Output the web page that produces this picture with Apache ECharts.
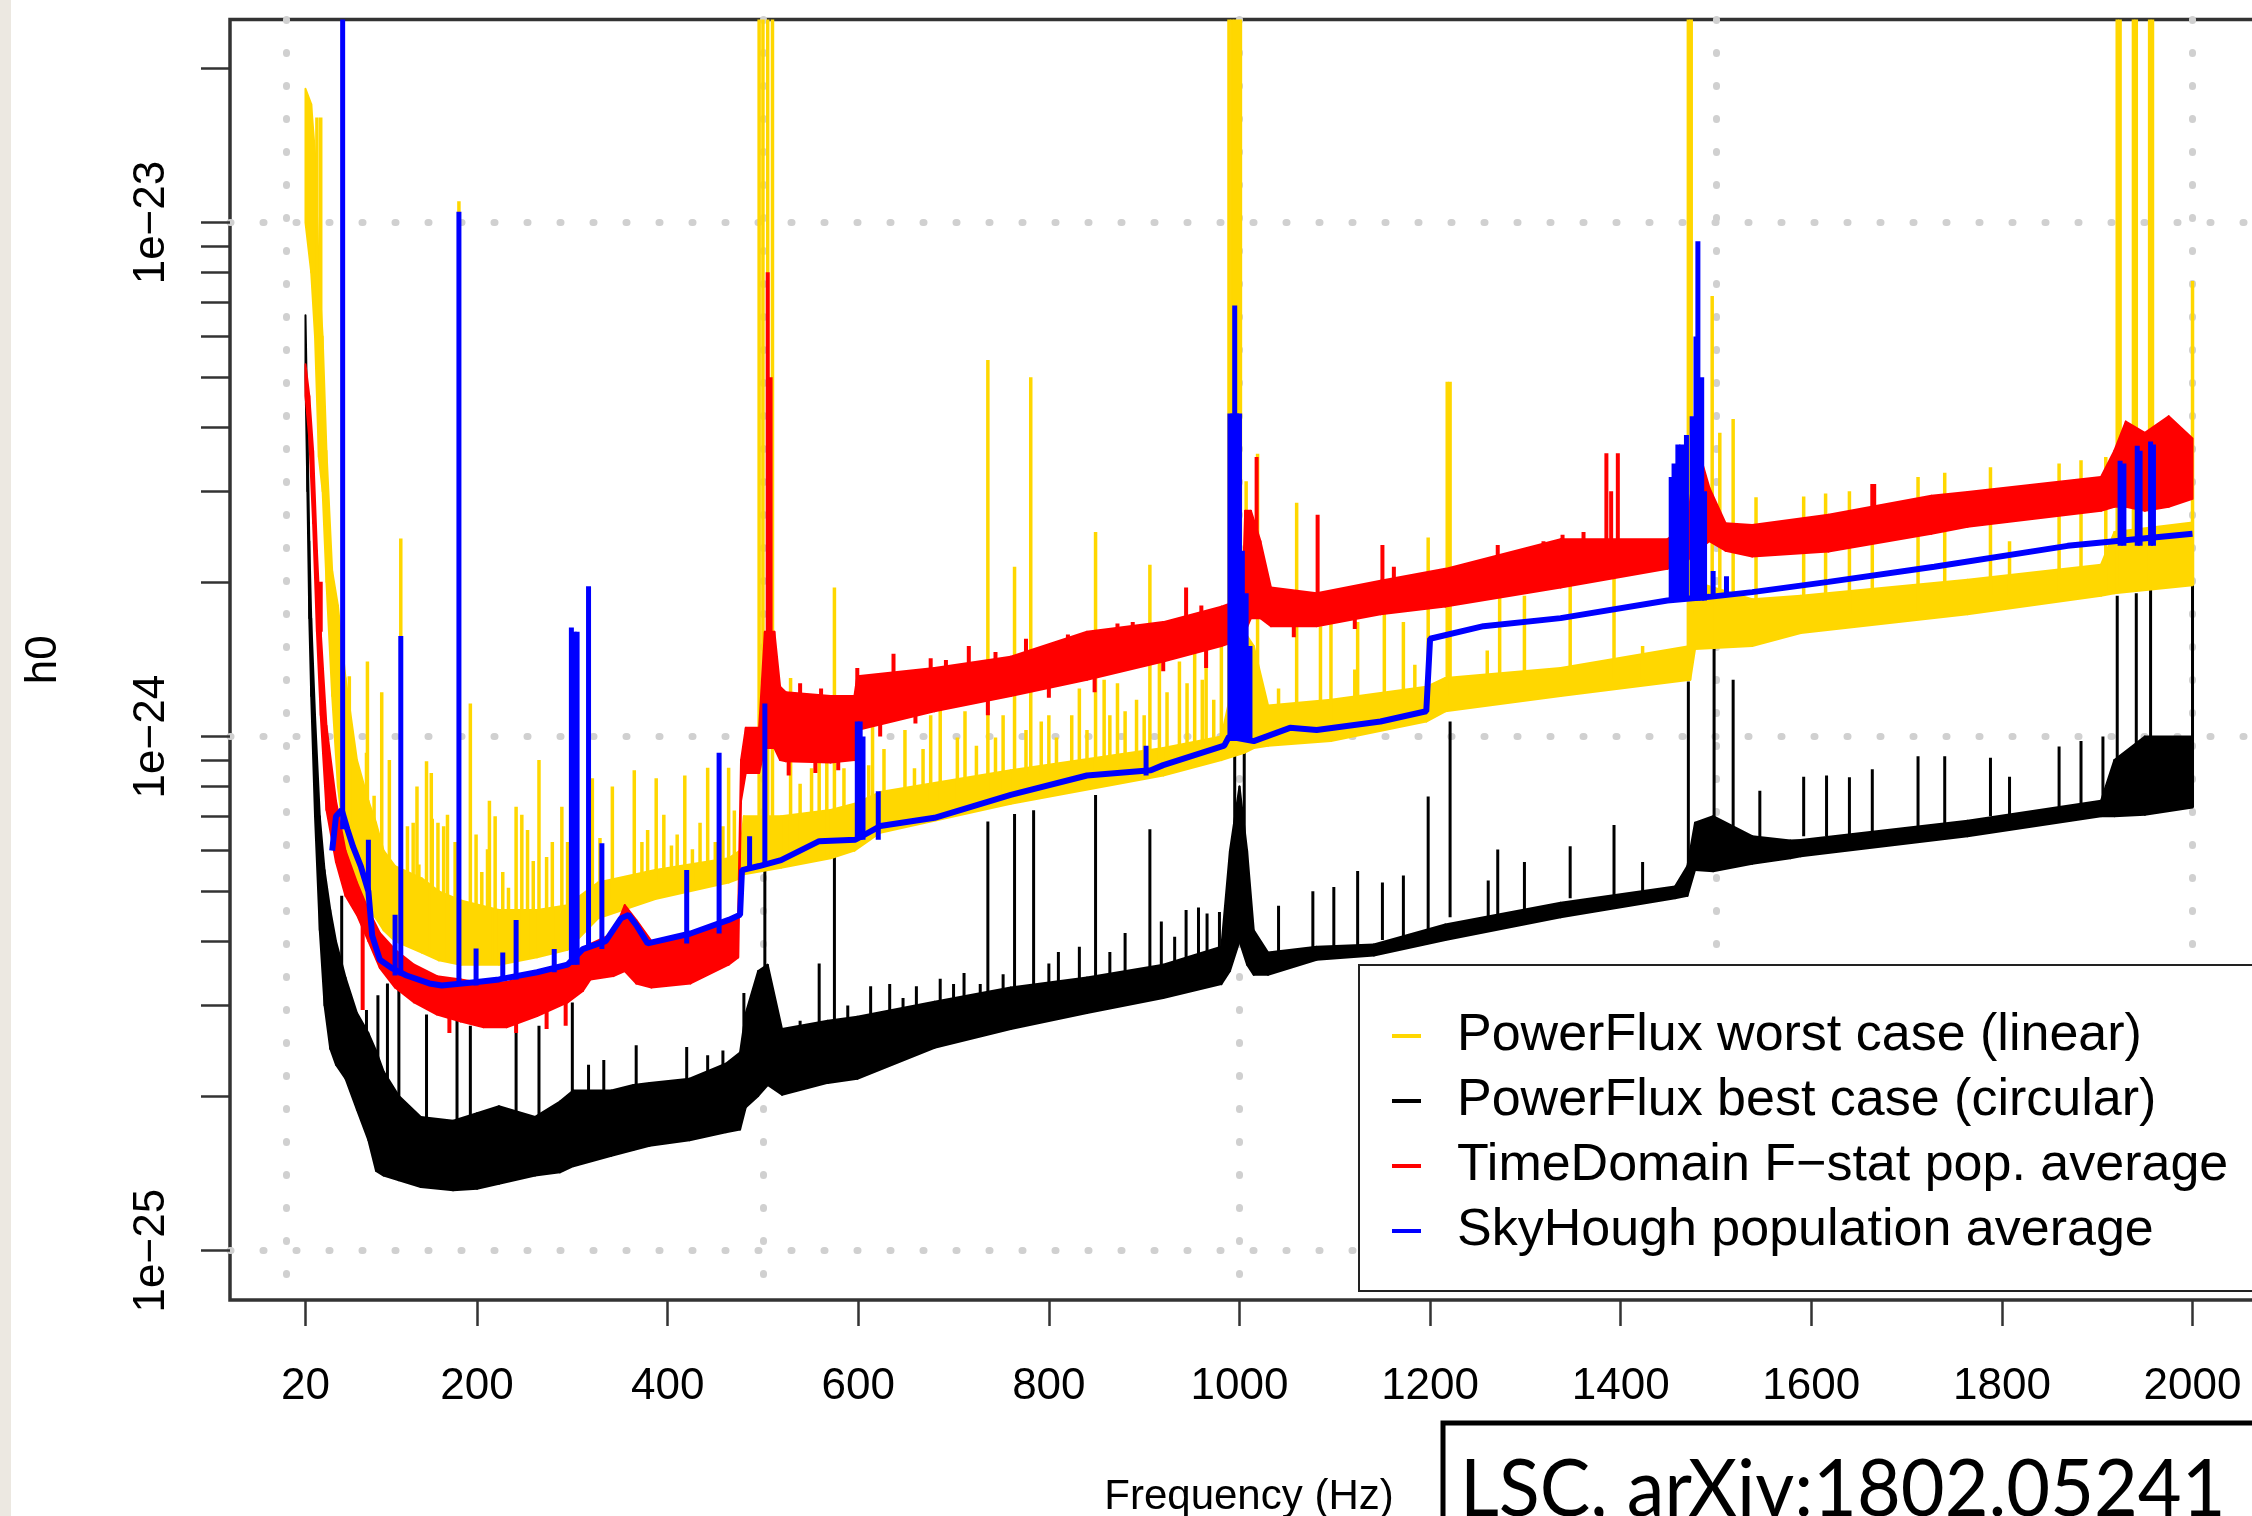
<!DOCTYPE html>
<html>
<head>
<meta charset="utf-8">
<script src="https://cdn.jsdelivr.net/npm/echarts@6.0.0/dist/echarts.min.js"></script>
<style>
  html, body { margin: 0; padding: 0; background: #fff; }
  #chart { width: 2252px; height: 1516px; }
</style>
</head>
<body>
<div id="chart"></div>
<script>
// axis ticks
const xTickValues = [20, 200, 400, 600, 800, 1000, 1200, 1400, 1600, 1800, 2000];
const xGridValues = [0, 500, 1000, 1500, 2000];
const yLabelValues = [1e-25, 1e-24, 1e-23];
const yTickValues = [1e-25, 2e-25, 3e-25, 4e-25, 5e-25, 6e-25, 7e-25, 8e-25, 9e-25,
  1e-24, 2e-24, 3e-24, 4e-24, 5e-24, 6e-24, 7e-24, 8e-24, 9e-24, 1e-23, 2e-23];

const seriesNames = [
  'PowerFlux worst case (linear)',
  'PowerFlux best case (circular)',
  'TimeDomain F\u2212stat pop. average',
  'SkyHough population average'
];

// PowerFlux best case (black): [freq, lower edge, upper edge] of the noisy band
const blackBand = [
  [20, 5.0e-24, 6.6e-24], [22, 3.0e-24, 4.0e-24], [24, 1.7e-24, 2.4e-24], [26, 1.2e-24, 1.7e-24],
  [30, 7.0e-25, 1.1e-24], [35, 4.2e-25, 7.0e-25], [40, 3.0e-25, 5.5e-25], [46, 2.47e-25, 4.6e-25],
  [52, 2.3e-25, 4.0e-25], [62, 2.16e-25, 3.4e-25], [74, 1.88e-25, 2.9e-25], [86, 1.64e-25, 2.65e-25],
  [94, 1.43e-25, 2.45e-25], [102, 1.40e-25, 2.23e-25], [118, 1.37e-25, 2.0e-25], [141, 1.33e-25, 1.82e-25],
  [175, 1.31e-25, 1.79e-25], [200, 1.32e-25, 1.85e-25], [223, 1.35e-25, 1.91e-25], [261, 1.40e-25, 1.82e-25],
  [287, 1.42e-25, 1.95e-25], [301, 1.46e-25, 2.05e-25], [341, 1.53e-25, 2.05e-25], [364, 1.57e-25, 2.1e-25],
  [381, 1.60e-25, 2.12e-25], [423, 1.64e-25, 2.16e-25], [461, 1.70e-25, 2.31e-25], [476, 1.72e-25, 2.43e-25],
  [482, 1.90e-25, 2.9e-25], [495, 2.0e-25, 3.5e-25], [505, 2.1e-25, 3.6e-25], [520, 2.01e-25, 2.7e-25],
  [568, 2.12e-25, 2.8e-25], [599, 2.16e-25, 2.85e-25], [680, 2.48e-25, 3.05e-25], [760, 2.70e-25, 3.25e-25],
  [840, 2.90e-25, 3.4e-25], [920, 3.10e-25, 3.6e-25], [981, 3.30e-25, 3.9e-25], [990, 3.5e-25, 6.0e-25],
  [1000, 4.0e-25, 8.0e-25], [1008, 3.6e-25, 6.0e-25], [1015, 3.44e-25, 4.2e-25], [1030, 3.44e-25, 3.8e-25],
  [1081, 3.68e-25, 3.9e-25], [1141, 3.75e-25, 3.94e-25], [1216, 4.02e-25, 4.31e-25], [1337, 4.45e-25, 4.75e-25],
  [1457, 4.85e-25, 5.11e-25], [1470, 4.9e-25, 5.6e-25], [1478, 5.5e-25, 6.8e-25], [1497, 5.47e-25, 7.0e-25],
  [1538, 5.66e-25, 6.4e-25], [1578, 5.8e-25, 6.28e-25], [1589, 5.85e-25, 6.29e-25], [1764, 6.4e-25, 6.86e-25],
  [1904, 7.0e-25, 7.5e-25], [1918, 7.0e-25, 9.0e-25], [1950, 7.05e-25, 1.0e-24], [2000, 7.28e-25, 1.0e-24]
];
// [freq, peak] of narrow lines
const blackSpikes = [
  [58, 4.9e-25], [84, 2.94e-25], [96, 3.14e-25], [106, 3.31e-25], [118, 3.37e-25], [147, 2.88e-25],
  [179, 3.04e-25], [193, 2.74e-25], [241, 2.65e-25], [265, 2.74e-25], [300, 3.04e-25], [317, 2.3e-25],
  [333, 2.35e-25], [367, 2.51e-25], [420, 2.49e-25], [442, 2.4e-25], [458, 2.45e-25], [480, 3.17e-25],
  [502, 5.78e-25], [539, 2.8e-25], [559, 3.62e-25], [575, 5.85e-25], [589, 3.0e-25], [613, 3.27e-25],
  [633, 3.3e-25], [647, 3.1e-25], [661, 3.27e-25], [686, 3.38e-25], [700, 3.3e-25], [711, 3.47e-25],
  [728, 3.3e-25], [736, 6.84e-25], [752, 3.45e-25], [764, 7.07e-25], [784, 7.19e-25], [800, 3.62e-25],
  [810, 3.81e-25], [832, 3.9e-25], [849, 7.7e-25], [864, 3.81e-25], [880, 4.15e-25], [906, 6.6e-25],
  [918, 4.37e-25], [932, 4.08e-25], [944, 4.6e-25], [957, 4.65e-25], [966, 4.53e-25], [979, 4.56e-25],
  [995, 1.15e-24], [1005, 9.5e-25], [1041, 4.69e-25], [1077, 5.0e-25], [1099, 5.1e-25], [1124, 5.48e-25],
  [1150, 5.2e-25], [1172, 5.37e-25], [1198, 7.65e-25], [1221, 1.07e-24], [1261, 5.25e-25], [1271, 6.03e-25],
  [1299, 5.7e-25], [1347, 6.12e-25], [1393, 6.73e-25], [1423, 5.7e-25], [1471, 1.28e-24], [1498, 1.51e-24],
  [1518, 1.29e-24], [1546, 7.85e-25], [1592, 8.35e-25], [1616, 8.4e-25], [1640, 8.34e-25], [1664, 8.64e-25],
  [1712, 9.16e-25], [1740, 9.16e-25], [1788, 9.1e-25], [1808, 8.35e-25], [1860, 9.57e-25], [1883, 9.8e-25],
  [1906, 1.0e-24], [1921, 1.88e-24], [1941, 1.9e-24], [1956, 2.05e-24], [2000, 1.97e-24]
];

// PowerFlux worst case (yellow)
const yellowBand = [
  [20, 1.0e-23, 1.82e-23], [26, 8.0e-24, 1.7e-23], [30, 6.0e-24, 1.36e-23], [34, 3.5e-24, 8.0e-24],
  [38, 3.0e-24, 6.0e-24], [42, 2.0e-24, 3.6e-24], [48, 1.2e-24, 2.1e-24], [54, 8.0e-25, 1.8e-24],
  [62, 6.0e-25, 1.3e-24], [74, 5.0e-25, 9.0e-25], [86, 4.6e-25, 7.5e-25], [94, 4.43e-25, 6.8e-25],
  [102, 4.2e-25, 6.0e-25], [114, 4.0e-25, 5.6e-25], [142, 3.8e-25, 5.3e-25], [160, 3.67e-25, 5.0e-25],
  [183, 3.6e-25, 4.8e-25], [223, 3.6e-25, 4.6e-25], [263, 3.72e-25, 4.6e-25], [295, 3.85e-25, 4.7e-25],
  [327, 4.43e-25, 5.2e-25], [387, 4.83e-25, 5.5e-25], [464, 5.2e-25, 5.8e-25], [476, 5.3e-25, 6.0e-25],
  [480, 5.4e-25, 7.0e-25], [519, 5.56e-25, 7.0e-25], [571, 5.8e-25, 7.2e-25], [596, 6.0e-25, 7.4e-25],
  [623, 6.5e-25, 7.8e-25], [760, 7.4e-25, 8.6e-25], [920, 8.4e-25, 9.5e-25], [981, 9.0e-25, 1.0e-24],
  [1005, 9.3e-25, 1.6e-24], [1015, 9.5e-25, 1.5e-24], [1030, 9.6e-25, 1.15e-24], [1096, 9.8e-25, 1.18e-24],
  [1196, 1.07e-24, 1.25e-24], [1216, 1.12e-24, 1.3e-24], [1337, 1.2e-24, 1.36e-24], [1473, 1.29e-24, 1.5e-24],
  [1478, 1.48e-24, 2.0e-24], [1538, 1.5e-24, 1.85e-24], [1589, 1.59e-24, 1.88e-24], [1764, 1.73e-24, 2.02e-24],
  [1904, 1.88e-24, 2.16e-24], [1918, 1.9e-24, 2.5e-24], [2000, 1.97e-24, 2.61e-24]
];
const yellowSpikes = [
  [32, 1.6e-23], [36, 1.6e-23], [66, 1.31e-24], [78, 7.67e-25], [84, 9.3e-25], [85, 1.4e-24],
  [92, 7.67e-25], [100, 1.22e-24], [108, 9.0e-25], [120, 2.43e-24], [127, 6.69e-25], [133, 6.8e-25],
  [137, 8.0e-25], [139, 5.64e-25], [147, 8.95e-25], [152, 8.5e-25], [153, 6.92e-25], [159, 6.8e-25],
  [165, 6.69e-25], [169, 7.05e-25], [177, 6.24e-25], [181, 1.1e-23], [193, 1.16e-24], [199, 6.45e-25],
  [205, 5.45e-25], [211, 6.04e-25], [213, 7.5e-25], [219, 7.0e-25], [227, 5.45e-25], [233, 5.08e-25],
  [241, 7.3e-25], [247, 7.05e-25], [253, 6.58e-25], [259, 5.73e-25], [265, 9.0e-25], [273, 5.83e-25],
  [279, 6.24e-25], [289, 7.3e-25], [295, 6.24e-25], [321, 8.3e-25], [329, 6.35e-25], [337, 5.17e-25],
  [342, 8.0e-25], [351, 5.08e-25], [365, 8.6e-25], [373, 6.24e-25], [379, 6.58e-25], [388, 8.3e-25],
  [396, 7.05e-25], [404, 6.14e-25], [410, 6.45e-25], [418, 8.4e-25], [426, 6.04e-25], [434, 6.8e-25],
  [442, 8.7e-25], [450, 6.24e-25], [458, 6.69e-25], [464, 8.7e-25], [470, 7.18e-25],
  [496, 3e-23], [500, 3e-23], [505, 3e-23], [510, 3e-23],
  [529, 1.3e-24], [539, 8.1e-25], [551, 8.68e-25], [559, 1.18e-24], [567, 1.01e-24], [575, 1.95e-24],
  [585, 8.68e-25], [611, 8.8e-25], [615, 1.07e-24], [627, 9.46e-25], [649, 1.03e-24], [659, 8.68e-25],
  [668, 9.46e-25], [676, 1.1e-24], [686, 1.14e-24], [704, 9.96e-25], [712, 1.12e-24], [724, 9.6e-25],
  [736, 5.4e-24], [744, 9.96e-25], [752, 1.1e-24], [764, 2.14e-24], [776, 1.03e-24], [781, 5.0e-24],
  [792, 1.07e-24], [800, 1.1e-24], [808, 9.96e-25], [824, 1.1e-24], [832, 1.24e-24], [840, 1.03e-24],
  [849, 2.5e-24], [858, 1.29e-24], [864, 1.1e-24], [872, 1.27e-24], [880, 1.12e-24], [892, 1.18e-24],
  [900, 1.1e-24], [906, 2.16e-24], [916, 1.4e-24], [924, 1.22e-24], [937, 1.4e-24], [945, 1.27e-24],
  [953, 1.5e-24], [961, 1.29e-24], [965, 1.48e-24], [973, 1.18e-24], [981, 1.5e-24],
  [989, 3e-23], [992, 3e-23], [995, 3e-23], [998, 3e-23], [1001, 3e-23],
  [1007, 3.14e-24], [1019, 3.55e-24], [1041, 1.24e-24], [1060, 2.85e-24], [1085, 1.64e-24], [1096, 1.67e-24],
  [1121, 1.35e-24], [1124, 1.67e-24], [1143, 1.14e-24], [1152, 1.74e-24], [1172, 1.67e-24], [1184, 1.38e-24],
  [1198, 2.44e-24], [1218, 4.9e-24], [1221, 4.9e-24], [1260, 1.47e-24], [1273, 1.91e-24], [1299, 1.88e-24],
  [1347, 2.0e-24], [1393, 2.04e-24], [1423, 1.5e-24], [1471, 3e-23], [1474, 3e-23], [1496, 7.2e-24],
  [1504, 3.9e-24], [1518, 4.15e-24], [1542, 2.92e-24], [1592, 2.93e-24], [1615, 2.97e-24], [1640, 3.0e-24],
  [1664, 2.6e-24], [1712, 3.2e-24], [1740, 3.26e-24], [1788, 3.34e-24], [1808, 2.4e-24], [1860, 3.4e-24],
  [1883, 3.45e-24], [1909, 3.5e-24], [1921, 3e-23], [1924, 3e-23], [1938, 3e-23], [1941, 3e-23],
  [1955, 3e-23], [1958, 3e-23], [2000, 7.7e-24]
];

// TimeDomain F-stat (red)
const redBand = [
  [20, 4.6e-24, 5.3e-24], [24, 3.8e-24, 4.6e-24], [28, 2.6e-24, 3.6e-24], [32, 1.6e-24, 2.3e-24],
  [36, 1.1e-24, 1.6e-24], [42, 7.2e-25, 1.05e-24], [52, 5.7e-25, 7.5e-25], [62, 4.9e-25, 6.0e-25],
  [74, 4.5e-25, 5.2e-25], [86, 4.0e-25, 4.6e-25], [98, 3.55e-25, 4.15e-25], [114, 3.25e-25, 3.85e-25],
  [134, 3.04e-25, 3.6e-25], [158, 2.88e-25, 3.42e-25], [183, 2.79e-25, 3.37e-25], [207, 2.72e-25, 3.31e-25],
  [231, 2.72e-25, 3.33e-25], [263, 2.86e-25, 3.48e-25], [295, 3.04e-25, 3.6e-25], [311, 3.2e-25, 3.8e-25],
  [319, 3.37e-25, 3.95e-25], [343, 3.42e-25, 4.14e-25], [355, 3.5e-25, 4.7e-25], [367, 3.31e-25, 4.4e-25],
  [383, 3.25e-25, 4.0e-25], [424, 3.31e-25, 4.14e-25], [464, 3.6e-25, 4.43e-25], [474, 3.72e-25, 4.5e-25],
  [477, 7.5e-25, 9.0e-25], [482, 8.5e-25, 1.04e-24], [496, 8.5e-25, 1.04e-24], [502, 9.5e-25, 1.6e-24],
  [512, 9.5e-25, 1.6e-24], [518, 9.0e-25, 1.25e-24], [524, 8.95e-25, 1.22e-24], [571, 8.9e-25, 1.2e-24],
  [596, 9.0e-25, 1.2e-24], [599, 1.03e-24, 1.31e-24], [680, 1.12e-24, 1.36e-24], [760, 1.2e-24, 1.43e-24],
  [840, 1.29e-24, 1.6e-24], [920, 1.4e-24, 1.67e-24], [981, 1.5e-24, 1.79e-24], [1003, 1.55e-24, 1.85e-24],
  [1006, 1.6e-24, 2.75e-24], [1012, 1.7e-24, 2.75e-24], [1022, 1.7e-24, 2.4e-24], [1033, 1.64e-24, 1.95e-24],
  [1081, 1.64e-24, 1.9e-24], [1148, 1.73e-24, 2.01e-24], [1216, 1.79e-24, 2.12e-24], [1337, 1.95e-24, 2.42e-24],
  [1449, 2.12e-24, 2.42e-24], [1470, 2.2e-24, 2.6e-24], [1480, 2.3e-24, 3.7e-24], [1493, 2.4e-24, 3.05e-24],
  [1510, 2.3e-24, 2.6e-24], [1538, 2.24e-24, 2.58e-24], [1618, 2.29e-24, 2.7e-24], [1726, 2.48e-24, 2.94e-24],
  [1764, 2.56e-24, 2.99e-24], [1904, 2.75e-24, 3.2e-24], [1918, 2.8e-24, 3.6e-24], [1930, 2.8e-24, 4.1e-24],
  [1950, 2.75e-24, 3.9e-24], [1975, 2.8e-24, 4.2e-24], [2000, 2.9e-24, 3.8e-24]
];
// red narrow lines above the band and dips below it
const redSpikes = [
  [36, 2.0e-24], [80, 2.94e-25], [171, 2.65e-25], [241, 2.65e-25], [273, 2.7e-25], [293, 2.74e-25],
  [505, 8.0e-24], [508, 5.0e-24], [527, 8.4e-25], [539, 1.27e-24], [555, 8.5e-25], [561, 1.24e-24],
  [579, 8.6e-25], [599, 1.36e-24], [623, 1.0e-24], [637, 1.45e-24], [660, 1.06e-24], [676, 1.42e-24],
  [692, 1.41e-24], [716, 1.5e-24], [736, 1.1e-24], [744, 1.46e-24], [776, 1.55e-24], [800, 1.19e-24],
  [820, 1.58e-24], [848, 1.22e-24], [872, 1.66e-24], [888, 1.67e-24], [916, 1.66e-24], [920, 1.34e-24],
  [944, 1.95e-24], [960, 1.8e-24], [965, 1.36e-24], [1018, 3.5e-24], [1057, 1.56e-24], [1082, 2.7e-24],
  [1121, 1.62e-24], [1150, 2.36e-24], [1162, 2.14e-24], [1271, 2.36e-24], [1319, 2.4e-24], [1339, 2.47e-24],
  [1361, 2.5e-24], [1385, 3.56e-24], [1390, 3.0e-24], [1397, 3.56e-24], [1592, 2.64e-24], [1664, 3.1e-24],
  [1666, 3.1e-24]
];

// SkyHough population average (blue)
const blueLine = [
  [48, 6.0e-25], [52, 7.0e-25], [58, 7.2e-25], [64, 6.6e-25], [70, 6.1e-25], [78, 5.6e-25],
  [86, 5.0e-25], [90, 4.1e-25], [98, 3.68e-25], [110, 3.55e-25], [126, 3.43e-25], [150, 3.31e-25],
  [163, 3.28e-25], [200, 3.33e-25], [223, 3.37e-25], [263, 3.48e-25], [295, 3.6e-25], [311, 3.86e-25],
  [335, 4.0e-25], [351, 4.43e-25], [359, 4.5e-25], [367, 4.3e-25], [379, 3.96e-25], [424, 4.14e-25],
  [464, 4.4e-25], [476, 4.5e-25], [478, 5.5e-25], [496, 5.6e-25], [519, 5.75e-25], [559, 6.26e-25],
  [597, 6.3e-25], [623, 6.7e-25], [680, 6.95e-25], [760, 7.7e-25], [840, 8.4e-25], [907, 8.6e-25],
  [920, 8.8e-25], [984, 9.6e-25], [989, 1.0e-24], [1015, 9.8e-25], [1053, 1.04e-24], [1081, 1.03e-24],
  [1148, 1.07e-24], [1196, 1.12e-24], [1200, 1.55e-24], [1256, 1.64e-24], [1337, 1.7e-24], [1449, 1.84e-24],
  [1493, 1.87e-24], [1538, 1.91e-24], [1618, 2.0e-24], [1729, 2.14e-24], [1869, 2.35e-24], [2000, 2.48e-24]
];
const blueSpikes = [
  [59, 3e-23], [86, 6.3e-25], [114, 4.5e-25], [120, 1.57e-24], [181, 1.05e-23], [199, 3.87e-25],
  [227, 3.8e-25], [241, 4.4e-25], [281, 3.86e-25], [299, 1.63e-24], [302, 1.6e-24], [305, 1.6e-24],
  [317, 1.96e-24], [331, 6.2e-25], [420, 5.5e-25], [454, 9.3e-25], [486, 6.4e-25], [502, 1.16e-24],
  [599, 1.07e-24], [602, 1.07e-24], [605, 1.0e-24], [621, 7.83e-25], [902, 9.6e-25], [990, 4.25e-24],
  [993, 4.25e-24], [995, 6.9e-24], [997, 4.25e-24], [1000, 4.25e-24], [1003, 2.3e-24], [1007, 1.9e-24],
  [1011, 1.5e-24], [1453, 3.2e-24], [1456, 3.4e-24], [1460, 3.7e-24], [1464, 3.7e-24], [1469, 3.86e-24],
  [1475, 4.2e-24], [1479, 6.0e-24], [1481, 9.2e-24], [1485, 5.0e-24], [1488, 3.0e-24], [1497, 2.1e-24],
  [1511, 2.05e-24], [1924, 3.44e-24], [1928, 3.4e-24], [1942, 3.68e-24], [1945, 3.6e-24], [1956, 3.75e-24],
  [1959, 3.7e-24]
];

const X_MIN = -59.2, X_MAX = 2079.2;
const Y_MIN = Math.pow(10, -25.096), Y_MAX = Math.pow(10, -22.605);
const FONT = 'Liberation Sans, Arial, sans-serif';
const GOLD = '#ffd700', BLACK = '#000000', RED = '#ff0000', BLUE = '#0000ff';

// index of the band segment holding a frequency
function segmentOf(rows, f) {
  let i = 0;
  while (i < rows.length - 2 && rows[i + 1][0] < f) i++;
  return i;
}

// where a spike leaves its band: bottom edge for peaks, top edge for dips
function bandFoot(band, f, v) {
  const i = segmentOf(band, f);
  const a = band[i], b = band[i + 1];
  if (v < Math.min(a[1], b[1])) return Math.min(a[2], b[2]);
  return Math.max(a[1], b[1]);
}

function lineFoot(line, f) {
  const i = segmentOf(line, f);
  return Math.min(line[i][1], line[i + 1][1]);
}

function bandSeries(name, color, band) {
  const data = [];
  for (let i = 0; i < band.length - 1; i++) {
    data.push([band[i][0], band[i][1], band[i][2], band[i + 1][0], band[i + 1][1], band[i + 1][2]]);
  }
  return {
    type: 'custom',
    name: name,
    clip: true,
    silent: true,
    itemStyle: { color: color },
    dimensions: ['f0', 'lo0', 'hi0', 'f1', 'lo1', 'hi1'],
    encode: { x: 'f0', y: 'lo0' },
    data: data,
    renderItem: function (params, api) {
      const p1 = api.coord([api.value(0), api.value(2)]);
      const p2 = api.coord([api.value(3), api.value(5)]);
      const p3 = api.coord([api.value(3), api.value(4)]);
      const p4 = api.coord([api.value(0), api.value(1)]);
      return {
        type: 'polygon',
        shape: { points: [p1, p2, p3, p4] },
        style: { fill: color, stroke: color, lineWidth: 2, lineJoin: 'round' }
      };
    }
  };
}

function spikeSeries(name, color, width, spikes, footFn) {
  return {
    type: 'custom',
    name: name,
    clip: true,
    silent: true,
    itemStyle: { color: color },
    dimensions: ['f', 'peak', 'foot'],
    encode: { x: 'f', y: 'peak' },
    data: spikes.map(s => [s[0], s[1], footFn(s[0], s[1])]),
    renderItem: function (params, api) {
      const a = api.coord([api.value(0), api.value(2)]);
      const b = api.coord([api.value(0), api.value(1)]);
      return {
        type: 'line',
        shape: { x1: a[0], y1: a[1], x2: b[0], y2: b[1] },
        style: { stroke: color, lineWidth: width }
      };
    }
  };
}

const chart = echarts.init(document.getElementById('chart'), null, { renderer: 'canvas' });

const dotted = { color: '#d0d0d0', width: 7, type: [1, 32], cap: 'round' };
const decadeMin = Math.log10(Y_MIN), decadeMax = Math.log10(Y_MAX);
const noLine = { show: false, onZero: false };

const option = {
  animation: false,
  backgroundColor: '#ffffff',
  grid: {
    left: 230, top: 19.5, width: 2038, height: 1280.5,
    show: true, borderColor: '#333', borderWidth: 3.5,
    containLabel: false, outerBoundsMode: 'none'
  },
  xAxis: [
    {
      type: 'value', min: X_MIN, max: X_MAX, position: 'bottom',
      axisLine: noLine,
      axisTick: { show: true, customValues: xTickValues, length: 26, lineStyle: { color: '#333', width: 2.5 } },
      axisLabel: {
        customValues: xTickValues, fontSize: 44, fontFamily: FONT, color: '#000', margin: 65,
        formatter: function (v) { return String(v); }
      },
      splitLine: { show: false },
      name: 'Frequency (Hz)', nameLocation: 'middle', nameGap: 176, nameMoveOverlap: false,
      nameTextStyle: { fontSize: 42, fontFamily: FONT, color: '#000' }
    },
    {
      type: 'value', min: X_MIN, max: X_MAX, position: 'bottom',
      axisLine: noLine,
      axisTick: { show: false, customValues: xGridValues },
      axisLabel: { show: false },
      splitLine: { show: true, lineStyle: dotted }
    }
  ],
  yAxis: [
    {
      // data axis: logarithmic h0 scale
      type: 'log', logBase: 10, min: Y_MIN, max: Y_MAX, position: 'left',
      axisLine: noLine, axisTick: { show: false }, axisLabel: { show: false },
      splitLine: { show: false }, minorTick: { show: false }
    },
    {
      // same extent in decades, carries the tick marks and labels
      type: 'value', min: decadeMin, max: decadeMax, position: 'left',
      axisLine: noLine,
      axisTick: { show: true, customValues: yTickValues.map(Math.log10), length: 29, lineStyle: { color: '#333', width: 2.5 } },
      axisLabel: {
        customValues: yLabelValues.map(Math.log10), rotate: 90, fontSize: 44, fontFamily: FONT, color: '#000', margin: 56,
        formatter: function (v) { return '1e\u2212' + Math.abs(Math.round(v)); }
      },
      splitLine: { show: false },
      name: 'h0', nameLocation: 'middle', nameGap: 164, nameRotate: 90, nameMoveOverlap: false,
      nameTextStyle: { fontSize: 44, fontFamily: FONT, color: '#000' }
    },
    {
      type: 'value', min: decadeMin, max: decadeMax, position: 'right',
      axisLine: noLine,
      axisTick: { show: false, customValues: yLabelValues.map(Math.log10) },
      axisLabel: { show: false },
      splitLine: { show: true, lineStyle: dotted }
    }
  ],
  legend: {
    orient: 'vertical', left: 1359, top: 965,
    data: seriesNames,
    icon: 'rect', itemWidth: 29, itemHeight: 4, itemGap: 13,
    padding: [45, 60, 34, 33],
    backgroundColor: '#ffffff', borderColor: '#222', borderWidth: 2, borderRadius: 0,
    selectedMode: false,
    textStyle: { fontSize: 52, lineHeight: 52, fontFamily: FONT, color: '#000', padding: [0, 0, 0, 31] }
  },
  series: [
    bandSeries(seriesNames[1], BLACK, blackBand),
    spikeSeries(seriesNames[1], BLACK, 3, blackSpikes, (f, v) => bandFoot(blackBand, f, v)),
    bandSeries(seriesNames[0], GOLD, yellowBand),
    spikeSeries(seriesNames[0], GOLD, 3.5, yellowSpikes, (f, v) => bandFoot(yellowBand, f, v)),
    bandSeries(seriesNames[2], RED, redBand),
    spikeSeries(seriesNames[2], RED, 4, redSpikes, (f, v) => bandFoot(redBand, f, v)),
    {
      type: 'line', name: seriesNames[3], data: blueLine,
      showSymbol: false, symbol: 'none', silent: true, clip: true,
      itemStyle: { color: BLUE },
      lineStyle: { color: BLUE, width: 6 }
    },
    spikeSeries(seriesNames[3], BLUE, 5, blueSpikes, (f) => lineFoot(blueLine, f))
  ],
  graphic: [
    { type: 'rect', shape: { x: 0, y: 0, width: 11, height: 1516 }, style: { fill: '#ece8e1' }, silent: true },
    {
      type: 'rect', shape: { x: 1443, y: 1423, width: 900, height: 200 },
      style: { fill: '#ffffff', stroke: '#000000', lineWidth: 5 }, silent: true, z: 100
    },
    {
      type: 'text', x: 1460, y: 1490, scaleX: 0.945, z: 101, silent: true,
      style: { text: 'LSC, arXiv:1802.05241', font: '80px Lato', fill: '#000', verticalAlign: 'middle' }
    }
  ]
};

chart.setOption(option);
</script>
</body>
</html>
